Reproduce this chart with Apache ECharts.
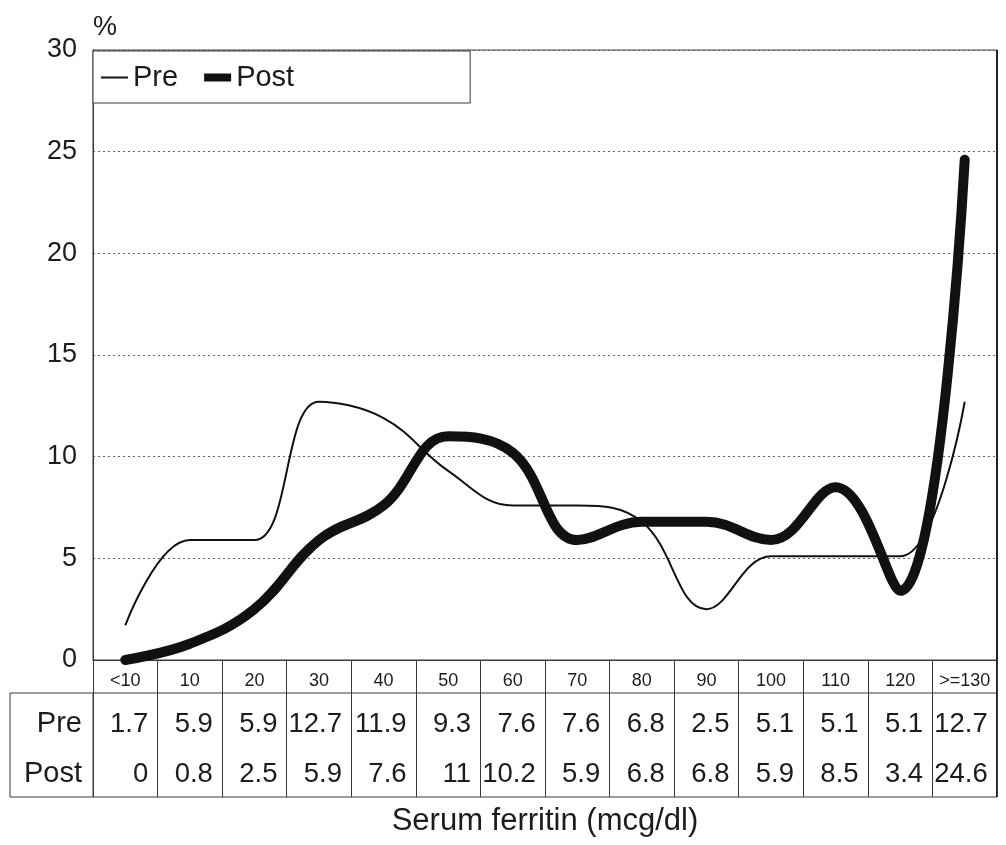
<!DOCTYPE html>
<html>
<head>
<meta charset="utf-8">
<script src="https://cdn.jsdelivr.net/npm/echarts@6/dist/echarts.min.js"></script>
<style>
  html, body { margin: 0; padding: 0; background: #fff; }
  #chart { width: 1006px; height: 845px; }
</style>
</head>
<body>
<div id="chart"></div>
<script>
// Serum ferritin groups (mcg/dl)
const categories = ['<10', '10', '20', '30', '40', '50', '60', '70', '80', '90', '100', '110', '120', '>=130'];
// Percentage of subjects in each group
const preValues = [1.7, 5.9, 5.9, 12.7, 11.9, 9.3, 7.6, 7.6, 6.8, 2.5, 5.1, 5.1, 5.1, 12.7];
const postValues = [0, 0.8, 2.5, 5.9, 7.6, 11, 10.2, 5.9, 6.8, 6.8, 5.9, 8.5, 3.4, 24.6];
const yTicks = { min: 0, max: 30, interval: 5 };

const FONT = '"Liberation Sans", Arial, Helvetica, sans-serif';
const INK = '#1c1c1c';
const FRAME = '#3a3a3a';

// plot layout
const G = { left: 93, right: 9, top: 50, bottom: 185 };
const W = 1006, H = 845;
const plotBottom = H - G.bottom;           // y of the zero line
const catRow = 33;                          // height of category label row
const rowH = 50;                            // height of each table row
const tableTop = plotBottom + catRow;
const tableBottom = tableTop + rowH * 2 + 4;
const tableLeft = 10;

const chart = echarts.init(document.getElementById('chart'), null, { renderer: 'canvas' });

// one row of the data table, laid out as a label-only category axis
function tableAxis(values, name, offset) {
  return {
    type: 'category',
    gridIndex: 0,
    position: 'bottom',
    offset: offset,
    data: values.map(String),
    boundaryGap: true,
    axisLine: { show: false },
    axisTick: { show: false },
    splitLine: { show: false },
    name: name,
    nameLocation: 'start',
    nameGap: 11,
    nameTextStyle: { fontFamily: FONT, fontSize: 29, color: INK },
    axisLabel: {
      interval: 0,
      margin: 0,
      verticalAlign: 'middle',
      formatter: v => '{v|' + v + '}',
      rich: { v: { width: 46, align: 'right', fontFamily: FONT, fontSize: 27.5, color: INK } }
    }
  };
}

const option = {
  backgroundColor: '#fff',
  animation: false,
  grid: {
    left: G.left, right: G.right, top: G.top, bottom: G.bottom,
    show: true, borderColor: FRAME, borderWidth: 1, backgroundColor: 'transparent'
  },
  legend: {
    left: G.left, top: G.top + 1,
    orient: 'horizontal',
    padding: [12, 176, 11, 7],
    itemWidth: 27, itemHeight: 14, itemGap: 22,
    borderColor: FRAME, borderWidth: 1, backgroundColor: '#fff',
    itemStyle: { opacity: 0 },
    textStyle: { fontFamily: FONT, fontSize: 29, color: INK },
    data: [
      { name: 'Pre', lineStyle: { width: 2 } },
      { name: 'Post', lineStyle: { width: 8, cap: 'butt' } }
    ]
  },
  xAxis: [
    {
      type: 'category',
      gridIndex: 0,
      data: categories,
      boundaryGap: true,
      axisLine: { show: true, lineStyle: { color: FRAME, width: 1 } },
      axisTick: { show: true, interval: 0, length: tableBottom - plotBottom, lineStyle: { color: FRAME, width: 1 } },
      axisLabel: { interval: 0, margin: 21, verticalAlign: 'middle', fontFamily: FONT, fontSize: 18, color: INK },
      name: 'Serum ferritin (mcg/dl)',
      nameLocation: 'middle',
      nameGap: 146,
      nameTextStyle: { fontFamily: FONT, fontSize: 31, color: INK, verticalAlign: 'top' }
    },
    tableAxis(preValues, 'Pre', catRow + rowH / 2 + 6),
    tableAxis(postValues, 'Post', catRow + rowH * 1.5 + 6)
  ],
  yAxis: {
    type: 'value',
    min: yTicks.min, max: yTicks.max, interval: yTicks.interval,
    name: '%',
    nameLocation: 'end',
    nameGap: 9,
    nameTextStyle: { fontFamily: FONT, fontSize: 27, color: INK, align: 'left' },
    axisLine: { show: true, lineStyle: { color: FRAME, width: 1 } },
    axisTick: { show: false },
    axisLabel: { margin: 16, fontFamily: FONT, fontSize: 27, color: INK },
    splitLine: { show: true, lineStyle: { color: '#666', width: 1, type: [2, 3] } }
  },
  series: [
    {
      name: 'Pre',
      type: 'line',
      data: preValues,
      smooth: 0.4,
      symbol: 'none',
      lineStyle: { color: '#111', width: 2 },
      z: 3
    },
    {
      name: 'Post',
      type: 'line',
      data: postValues,
      smooth: 0.4,
      symbol: 'none',
      lineStyle: { color: '#111', width: 10, cap: 'round', join: 'round' },
      z: 4
    }
  ],
  graphic: [
    // data table frame
    { type: 'line', shape: { x1: tableLeft, y1: tableTop, x2: W - G.right, y2: tableTop }, style: { stroke: FRAME, lineWidth: 1 } },
    { type: 'line', shape: { x1: tableLeft, y1: tableBottom, x2: W - G.right, y2: tableBottom }, style: { stroke: FRAME, lineWidth: 1 } },
    { type: 'line', shape: { x1: tableLeft, y1: tableTop, x2: tableLeft, y2: tableBottom }, style: { stroke: FRAME, lineWidth: 1 } },
    { type: 'line', shape: { x1: G.left, y1: tableTop, x2: G.left, y2: tableBottom }, style: { stroke: FRAME, lineWidth: 1 } },
    // heavier right edge of the frame
    { type: 'line', shape: { x1: W - G.right, y1: G.top, x2: W - G.right, y2: tableBottom }, style: { stroke: '#222', lineWidth: 2 } }
  ]
};

chart.setOption(option);
</script>
</body>
</html>
